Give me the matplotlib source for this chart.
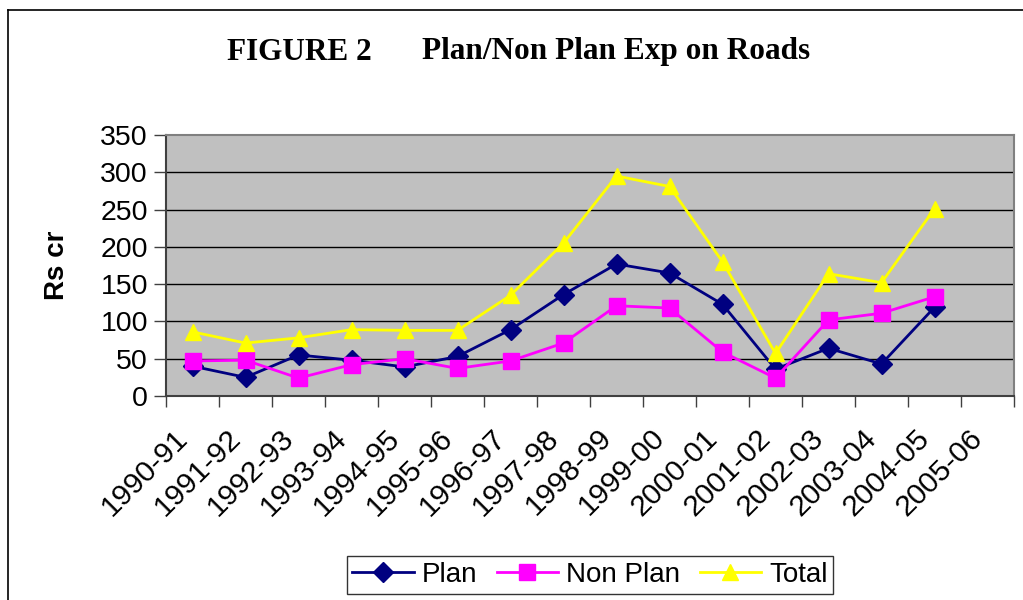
import numpy as np
import matplotlib
matplotlib.use('Agg')
import matplotlib.pyplot as plt
import matplotlib.transforms as mtransforms
from matplotlib.lines import Line2D

#### DATA ####
years = ['1990-91', '1991-92', '1992-93', '1993-94', '1994-95', '1995-96',
         '1996-97', '1997-98', '1998-99', '1999-00', '2000-01', '2001-02',
         '2002-03', '2003-04', '2004-05', '2005-06']
plan = [40, 25, 55, 48, 39, 53, 89, 136, 177, 165, 123, 36, 64, 43, 119]
non_plan = [47, 48, 24, 42, 50, 37, 47, 71, 121, 118, 59, 24, 102, 111, 133]
total = [86, 71, 78, 89, 88, 88, 135, 205, 295, 281, 180, 57, 164, 152, 251]

plt.rcParams['font.family'] = ['Liberation Sans', 'DejaVu Sans']

fig = plt.figure(figsize=(10.23, 6), dpi=100)
ax = fig.add_axes([166/1023, 1-396/600, (1014-166)/1023, (396-135)/600])

x = np.arange(len(plan))
ax.plot(x, plan, '-D', color='#000080', lw=2, ms=10, label='Plan')
ax.plot(x, non_plan, '-s', color='#FF00FF', lw=2, ms=11, label='Non Plan')
ax.plot(x, total, '-^', color='#FFFF00', lw=2, ms=12, label='Total')

ax.set_facecolor('#C0C0C0')
ax.set_xlim(-0.5, len(years) - 0.5)
ax.set_ylim(0, 350)
ax.set_yticks(range(0, 351, 50))
for yv in range(50, 350, 50):
    ax.axhline(yv, color='black', lw=1, zorder=0.5)
for s in ax.spines.values():
    s.set_color('#808080')
    s.set_linewidth(1.5)
ax.spines['bottom'].set_color('#404040')
ax.spines['left'].set_color('#404040')

ax.set_xticks(np.arange(len(years)))
ax.set_xticklabels(years, rotation=45, ha='right', va='top', rotation_mode='anchor')
ax.set_xticks(np.arange(len(years) + 1) - 0.5, minor=True)
ax.tick_params(axis='x', which='major', length=0, pad=20, labelsize=21.5)
ax.tick_params(axis='x', which='minor', length=8, width=1, color='#404040')
ax.tick_params(axis='y', length=9, width=1, color='#404040', labelsize=20.5, pad=4)
shift = mtransforms.ScaledTranslation(-19/100, 0, fig.dpi_scale_trans)
for lab in ax.get_xticklabels():
    lab.set_transform(lab.get_transform() + shift)
ax.set_ylabel('Rs cr', fontsize=20, fontweight='bold', labelpad=22)

fig.text(372/1023, 1-52/600, 'FIGURE 2', ha='right', va='center',
         family='Liberation Serif', fontweight='bold', fontsize=22.5)
fig.text(422/1023, 1-52/600, 'Plan/Non Plan Exp on Roads', ha='left', va='center',
         family='Liberation Serif', fontweight='bold', fontsize=22.5)

leg = fig.legend(loc='center', bbox_to_anchor=(590/1023, 1-575/600), ncol=3,
                 fontsize=20, frameon=True, fancybox=False, handlelength=2.2,
                 handletextpad=0.3, columnspacing=0.7, borderpad=0.2,
                 borderaxespad=0)
leg.get_frame().set_edgecolor('black')
leg.get_frame().set_linewidth(1)

# outer chart border (top and left visible)
fig.add_artist(Line2D([8/1023, 8/1023], [-0.1, 1-10/600], color='black', lw=1.2,
                      transform=fig.transFigure))
fig.add_artist(Line2D([8/1023, 1.1], [1-10/600, 1-10/600], color='black', lw=1.2,
                      transform=fig.transFigure))

fig.savefig('out.png', dpi=100)
